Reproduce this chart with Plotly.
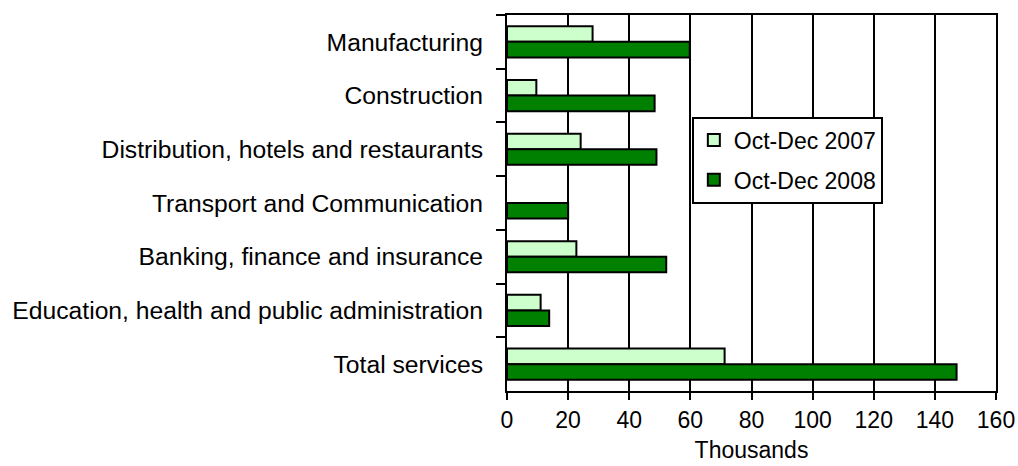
import plotly.graph_objects as go

categories = [
    "Manufacturing",
    "Construction",
    "Distribution, hotels and restaurants",
    "Transport and Communication",
    "Banking, finance and insurance",
    "Education, health and public administration",
    "Total services",
]
values_2007 = [28, 9.6, 24.1, None, 22.7, 11.0, 71.2]
values_2008 = [59.8, 48.3, 48.9, 20.0, 52.1, 13.8, 147.1]
series_names = ["Oct-Dec 2007", "Oct-Dec 2008"]
x_ticks = [0, 20, 40, 60, 80, 100, 120, 140, 160]

FONT = "Liberation Sans, Arial, sans-serif"

fig = go.Figure()
fig.add_trace(go.Bar(
    y=categories, x=values_2007, name=series_names[0], orientation="h",
    marker=dict(color="#CCFFCC", line=dict(color="black", width=2)),
    legendgroup="a",
))
fig.add_trace(go.Bar(
    y=categories, x=values_2008, name=series_names[1], orientation="h",
    marker=dict(color="#008000", line=dict(color="black", width=2)),
    legendgroup="b",
))

fig.update_layout(
    width=1018, height=466,
    margin=dict(l=507, r=22, t=15, b=75, autoexpand=False),
    paper_bgcolor="white", plot_bgcolor="white",
    font=dict(family=FONT, size=23, color="black"),
    barmode="group", bargap=0.42, bargroupgap=0,
    showlegend=True,
    legend=dict(
        x=0.378, y=0.730, xanchor="left", yanchor="top",
        bgcolor="white", bordercolor="black", borderwidth=2,
        font=dict(family=FONT, size=23, color="black"),
        tracegroupgap=7, traceorder="grouped",
    ),
    xaxis=dict(
        range=[0, 160], tickvals=x_ticks, ticktext=[str(v) for v in x_ticks],
        showgrid=True, gridcolor="black", gridwidth=1.5,
        showline=True, linecolor="black", linewidth=2, mirror=True,
        ticks="outside", ticklen=7, tickwidth=2, tickcolor="black",
        zeroline=False,
        title=dict(text="Thousands", font=dict(family=FONT, size=23), standoff=10),
        tickfont=dict(family=FONT, size=23),
    ),
    yaxis=dict(
        autorange="reversed", type="category",
        showline=True, linecolor="black", linewidth=2, mirror=True,
        ticks="outside", ticklen=9, tickwidth=2, tickcolor="black",
        tickson="boundaries", showgrid=False,
        tickfont=dict(family=FONT, size=24.7),
        ticklabelstandoff=17,
    ),
)

fig.write_html("out.html")
